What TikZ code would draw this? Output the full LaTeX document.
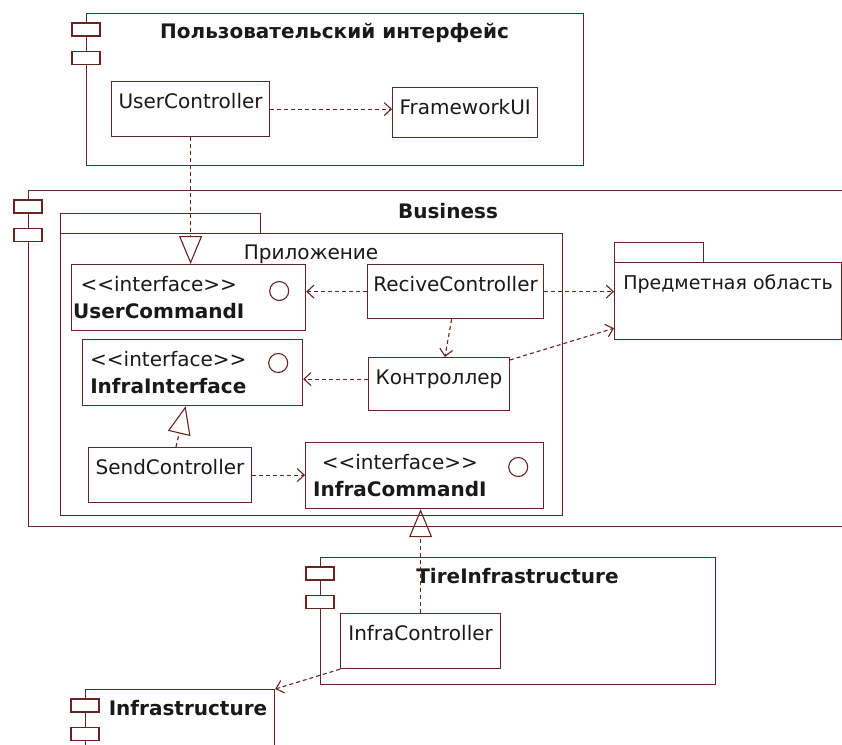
\documentclass[tikz,border=0pt]{standalone}
\usepackage{fontspec}
\newfontfamily\umlfont{DejaVu Sans}
\newcommand\umlsize{\fontsize{20}{27}\selectfont}
\usetikzlibrary{arrows.meta}
\definecolor{umlline}{RGB}{105,35,35}
\definecolor{umltext}{RGB}{25,25,25}
\tikzset{every node/.style={font=\umlfont\umlsize, text=umltext},
  comp/.style={draw=umlline, line width=1.2pt, anchor=north west, inner sep=0pt},
  comptab/.style={draw=umlline, line width=1.2pt, fill=white, minimum width=28pt, minimum height=13pt, inner sep=0pt},
  title/.style={font=\umlfont\bfseries\umlsize},
  pkg/.style={draw=umlline, line width=1.2pt, anchor=north west, inner sep=0pt},
  cls/.style={draw=umlline, line width=1.2pt, anchor=north west, inner xsep=7pt, inner ysep=12.7pt, text height=14.6pt, text depth=15pt},
  ibox/.style={draw=umlline, line width=1.2pt, anchor=north west, inner sep=0pt, minimum height=66pt},
  stereo/.style={anchor=north west, align=center, inner sep=0pt},
  lolli/.style={draw=umlline, line width=1.1pt, circle, minimum size=19pt, inner sep=0pt},
  dep/.style={draw=umlline, line width=1.1pt, dash pattern=on 4pt off 3pt, -{Straight Barb[length=7pt,width=13pt]}},
  real/.style={draw=umlline, line width=1.1pt, dash pattern=on 4pt off 3pt, -{Triangle[open,length=28pt,width=23pt]}}}

\begin{document}
\begin{tikzpicture}[x=1pt,y=-1pt]
  \useasboundingbox[fill=white] (0,0) rectangle (842,744);
  \clip (0,0) rectangle (842,744);
  \node[comp, minimum width=497pt, minimum height=152pt] (ui) at (86,13) {};
  \node[comp, minimum width=840pt, minimum height=336pt] (bus) at (28,190) {};
  \node[comp, minimum width=395pt, minimum height=127pt] (tire) at (320,557) {};
  \node[comp, minimum width=189pt, minimum height=120pt] (infra) at (85,689) {};
  \foreach \c in {ui,bus,tire,infra} {
    \node[comptab] (\c-tab1) at ([yshift=-16.5pt]\c.north west) {};
    \node[comptab] (\c-tab2) at ([yshift=-45pt]\c.north west) {};
  }
  \node[title] (ui-title) at (334.5,33) {Пользовательский интерфейс};
  \node[title] (bus-title) at (448,211) {Business};
  \node[title] (tire-title) at (517.5,576) {TireInfrastructure};
  \node[title] (infra-title) at (188,708) {Infrastructure};

  \node[cls, minimum width=157pt] (userctl) at (111,81) {UserController};
  \node[cls, minimum width=139pt, text depth=10pt] (fwui) at (392,87) {FrameworkUI};

  \node[pkg, minimum width=200pt, minimum height=20pt] (apptab) at (60,213) {};
  \node[pkg, minimum width=502pt, minimum height=282pt] (app) at (60,233) {};
  \node (app-label) at (311,254) {Приложение};
  \node[pkg, minimum width=89pt, minimum height=20pt] (domtab) at (614,242) {};
  \node[cls, minimum width=227pt, inner xsep=4pt, text depth=37pt, font=\umlfont\fontsize{19}{27}\selectfont] (dom) at (614,262) {Предметная область};

  \node[ibox, minimum width=234pt] (ucmd) at (71,264) {};
  \node[stereo] (ucmd-txt) at ([shift={(2,12)}]ucmd.north west) {<<interface>>\\\textbf{UserCommandI}};
  \node[lolli] (ucmd-o) at ([shift={(-27,27)}]ucmd.north east) {};
  \node[cls, minimum width=176pt, inner xsep=5pt, text depth=14pt] (recive) at (367,264) {ReciveController};
  \node[ibox, minimum width=220pt] (iiface) at (82,339) {};
  \node[stereo] (iiface-txt) at ([shift={(8,12)}]iiface.north west) {<<interface>>\\\textbf{InfraInterface}};
  \node[lolli] (iiface-o) at ([shift={(-25,24)}]iiface.north east) {};
  \node[cls, minimum width=139pt, text depth=13pt] (ctrl) at (368,357) {Контроллер};
  \node[cls, minimum width=162pt] (send) at (88,447) {SendController};
  \node[ibox, minimum width=238pt] (icmd) at (305,442) {};
  \node[stereo] (icmd-txt) at ([shift={(8,12)}]icmd.north west) {<<interface>>\\\textbf{InfraCommandI}};
  \node[lolli] (icmd-o) at ([shift={(-26,25)}]icmd.north east) {};
  \node[cls, minimum width=160pt] (infractl) at (340,613) {InfraController};

  \draw[dep] (userctl.east) -- (userctl.east -| fwui.west);
  \draw[real] (userctl.south) -- (userctl.south |- ucmd.north);
  \draw[dep] (recive.west) -- (recive.west -| ucmd.east);
  \draw[dep] (recive.east) -- (recive.east -| dom.west);
  \draw[dep] ([xshift=-4pt]recive.south) -- ([xshift=6pt]ctrl.north);
  \draw[dep] ([yshift=-3pt]ctrl.north east) -- ([yshift=12pt]dom.south west);
  \draw[dep] ([yshift=5pt]ctrl.west) -- ([yshift=5pt]ctrl.west -| iiface.east);
  \draw[real] ([xshift=6pt]send.north) -- ([xshift=-7pt]iiface.south);
  \draw[dep] (send.east) -- (send.east -| icmd.west);
  \draw[real] (infractl.north) -- (infractl.north |- icmd.south);
  \draw[dep] (infractl.south west) -- (infra.north east);
\end{tikzpicture}
\end{document}
